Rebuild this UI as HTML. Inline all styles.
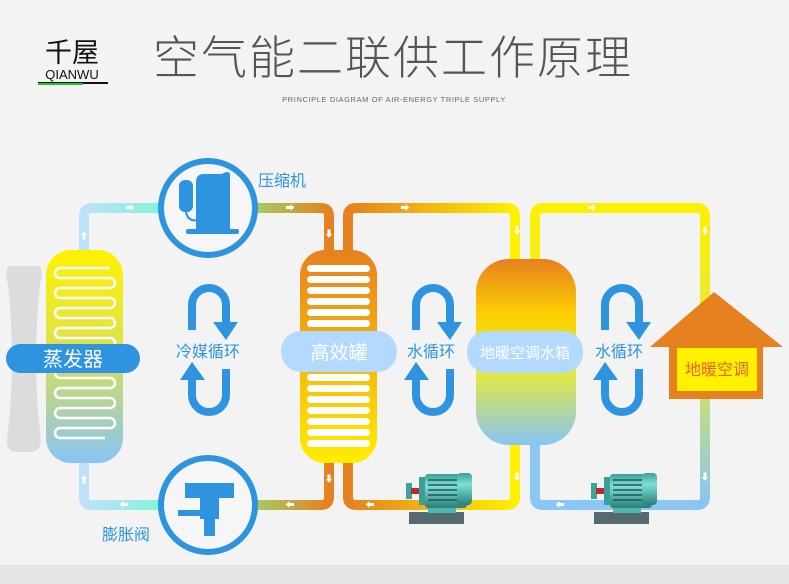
<!DOCTYPE html>
<html><head><meta charset="utf-8"><style>
html,body{margin:0;padding:0;}
body{width:789px;height:584px;overflow:hidden;background:#f3f3f3;font-family:"Liberation Sans","Noto Sans CJK SC",sans-serif;}
svg{display:block}
</style></head><body>
<svg width="789" height="584" viewBox="0 0 789 584" xmlns="http://www.w3.org/2000/svg" font-family="Liberation Sans, Noto Sans CJK SC, sans-serif">
<defs>
<linearGradient id="evap" x1="0" y1="0" x2="0" y2="1"><stop offset="0" stop-color="#fff200"/><stop offset="0.45" stop-color="#dde24a"/><stop offset="1" stop-color="#88c4f6"/></linearGradient>
<linearGradient id="tank" x1="0" y1="0" x2="0" y2="1"><stop offset="0" stop-color="#e7801f"/><stop offset="0.5" stop-color="#f6b40c"/><stop offset="1" stop-color="#ffee00"/></linearGradient>
<linearGradient id="wt" x1="0" y1="0" x2="0" y2="1"><stop offset="0" stop-color="#e7801f"/><stop offset="0.3" stop-color="#fdd000"/><stop offset="0.6" stop-color="#e6ea3a"/><stop offset="1" stop-color="#88c4f6"/></linearGradient>
<linearGradient id="p1" x1="0" y1="0" x2="1" y2="0"><stop offset="0" stop-color="#bfe0fb"/><stop offset="1" stop-color="#7ff5d8"/></linearGradient>
<linearGradient id="p2" x1="0" y1="0" x2="1" y2="0"><stop offset="0" stop-color="#9ed36a"/><stop offset="1" stop-color="#e7801f"/></linearGradient>
<linearGradient id="p3" x1="0" y1="0" x2="1" y2="0"><stop offset="0" stop-color="#e7801f"/><stop offset="1" stop-color="#fff000"/></linearGradient>
<linearGradient id="p4" x1="0" y1="0" x2="0" y2="1"><stop offset="0" stop-color="#fff000"/><stop offset="0.5" stop-color="#dfe84a"/><stop offset="1" stop-color="#88c4f6"/></linearGradient>
<linearGradient id="motor" x1="0" y1="0" x2="0" y2="1"><stop offset="0" stop-color="#3a9f98"/><stop offset="0.35" stop-color="#7fe0d4"/><stop offset="1" stop-color="#2a7f7a"/></linearGradient>
</defs>
<rect x="0" y="565" width="789" height="19" fill="#e6e6e6"/>
<!-- header -->
<text x="72" y="62" font-size="27" text-anchor="middle" fill="#111" font-family="Noto Sans CJK SC, sans-serif">千屋</text>
<text x="72" y="79" font-size="13" text-anchor="middle" fill="#111">QIANWU</text>
<rect x="38" y="82" width="70" height="2" fill="#111"/>
<rect x="38" y="83" width="45" height="2" fill="#22c322"/>
<text x="393" y="74" font-size="46" text-anchor="middle" fill="#555" font-weight="200" font-family="Noto Sans CJK SC, sans-serif" letter-spacing="2">空气能二联供工作原理</text>
<text x="394" y="102" font-size="7.5" text-anchor="middle" fill="#666" letter-spacing="0.6">PRINCIPLE DIAGRAM OF AIR-ENERGY TRIPLE SUPPLY</text>
<!-- pipes left loop -->
<g fill="none" stroke-width="10" stroke-linejoin="round">
<path d="M84,250 V216 Q84,208 92,208 H165" stroke="url(#p1)"/>
<path d="M84,463 V497 Q84,505 92,505 H165" stroke="url(#p1)"/>
<path d="M250,208 H321 Q329,208 329,216 V250" stroke="url(#p2)"/>
<path d="M250,505 H321 Q329,505 329,497 V463" stroke="url(#p2)"/>
<path d="M348,250 V216 Q348,208 356,208 H507 Q515,208 515,216 V500" stroke="url(#p3)"/>
<path d="M348,463 V497 Q348,505 356,505 H507 Q515,505 515,497" stroke="url(#p3)"/>
<path d="M535,260 V216 Q535,208 543,208 H697 Q705,208 705,216 V497 Q705,505 697,505 H543 Q535,505 535,497 V445" stroke="url(#p4)"/>
<path d="M515,216 V500" stroke="#fff000"/>
<path d="M535,445 V497 Q535,505 543,505 H697" stroke="#8cc6f4"/>
</g>
<!-- small pipe arrows -->
<g fill="#fff" font-size="9" text-anchor="middle">
<text x="130" y="211">➡</text><text x="290" y="211">➡</text><text x="405" y="211">➡</text><text x="592" y="211">➡</text>
<text x="124" y="508">⬅</text><text x="290" y="508">⬅</text><text x="370" y="508">⬅</text><text x="560" y="508">⬅</text>
<text x="84" y="239">⬆</text><text x="84" y="483">⬆</text>
<text x="329" y="237">⬇</text><text x="329" y="482">⬇</text>
<text x="517" y="234">⬇</text><text x="517" y="480">⬇</text>
<text x="705" y="234">⬇</text><text x="705" y="480">⬇</text>
</g>
<!-- fan -->
<path d="M10,266 H38 Q44,268 40,285 Q32,360 40,432 Q44,452 30,452 H16 Q4,452 8,432 Q16,360 8,285 Q4,268 10,266 Z" fill="#dcdcdc"/>
<!-- evaporator -->
<rect x="46" y="250" width="77" height="213" rx="25" fill="url(#evap)"/>
<path d="M110,268 H60 a5,5 0 0 0 0,10 H110 a5,5 0 0 1 0,10 H60 a5,5 0 0 0 0,10 H110 a5,5 0 0 1 0,10 H60 a5,5 0 0 0 0,10 H110 a5,5 0 0 1 0,10 H60 a5,5 0 0 0 0,10 H110 a5,5 0 0 1 0,10 H60 a5,5 0 0 0 0,10 H110 a5,5 0 0 1 0,10 H60 a5,5 0 0 0 0,10 H110 a5,5 0 0 1 0,10 H60 a5,5 0 0 0 0,10 H110 a5,5 0 0 1 0,10 H60 a5,5 0 0 0 0,10 H110 a5,5 0 0 1 0,10 H60 a5,5 0 0 0 0,10 H105" fill="none" stroke="#fff" stroke-width="2.5"/>
<rect x="6" y="344" width="134" height="29" rx="14.5" fill="#2e94e0"/>
<text x="73" y="366" font-size="20" fill="#fff" text-anchor="middle">蒸发器</text>
<!-- compressor -->
<circle cx="208" cy="208" r="47" fill="#f6f6f6" stroke="#2e94e0" stroke-width="6"/>
<rect x="179" y="180" width="14" height="32" rx="6" fill="#2e94e0"/>
<path d="M196,182 Q196,174 204,174 H222 Q228,170 230,174 V230 H196 Z" fill="#2e94e0"/>
<path d="M186,212 Q188,222 198,220" fill="none" stroke="#2e94e0" stroke-width="2"/>
<rect x="186" y="229" width="53" height="5" rx="2" fill="#2e94e0"/>
<text x="258" y="186" font-size="16" fill="#2e94e0">压缩机</text>
<!-- valve -->
<circle cx="208" cy="505" r="47" fill="#f6f6f6" stroke="#2e94e0" stroke-width="6"/>
<path d="M185,483 H234 V498 H219 V519 H215 V536 H204 V519 H200 V498 H185 Z" fill="#2e94e0"/>
<rect x="178" y="510" width="25" height="6" fill="#2e94e0"/>
<text x="102" y="540" font-size="16" fill="#2e94e0">膨胀阀</text>
<!-- high eff tank -->
<rect x="300" y="250" width="77" height="213" rx="25" fill="url(#tank)"/>
<g fill="#fff">
<rect x="307" y="265" width="63" height="7" rx="3.5"/><rect x="307" y="276" width="63" height="7" rx="3.5"/><rect x="307" y="287" width="63" height="7" rx="3.5"/><rect x="307" y="298" width="63" height="7" rx="3.5"/><rect x="307" y="309" width="63" height="7" rx="3.5"/><rect x="307" y="320" width="63" height="7" rx="3.5"/>
<rect x="307" y="374" width="63" height="7" rx="3.5"/><rect x="307" y="385" width="63" height="7" rx="3.5"/><rect x="307" y="396" width="63" height="7" rx="3.5"/><rect x="307" y="407" width="63" height="7" rx="3.5"/><rect x="307" y="418" width="63" height="7" rx="3.5"/><rect x="307" y="429" width="63" height="7" rx="3.5"/><rect x="307" y="440" width="63" height="7" rx="3.5"/>
</g>
<rect x="281" y="331" width="116" height="41" rx="20" fill="#b3dafd"/>
<text x="339" y="359" font-size="19" fill="#fff" text-anchor="middle">高效罐</text>
<!-- water tank -->
<rect x="476" y="259" width="100" height="186" rx="33" fill="url(#wt)"/>
<rect x="467" y="331" width="116" height="42" rx="20" fill="#b3dafd"/>
<text x="525" y="358" font-size="15" fill="#fff" text-anchor="middle">地暖空调水箱</text>
<!-- house -->
<polygon points="714,292 650,347 783,347" fill="#e7801f"/>
<rect x="669" y="346" width="94" height="53" fill="#e7801f"/>
<rect x="677" y="348" width="80" height="43" fill="#fff200"/>
<text x="717" y="375" font-size="16" fill="#e8641e" text-anchor="middle">地暖空调</text>
<!-- cycle arrows -->
<g id="cyc">
<path d="M192,330 V305 A17,17 0 0 1 226,305 V322" fill="none" stroke="#2e94e0" stroke-width="8"/>
<polygon points="213,322 238,322 226,340" fill="#2e94e0"/>
<path d="M192,380 V395 A17,17 0 0 0 226,395 V369" fill="none" stroke="#2e94e0" stroke-width="8"/>
<polygon points="180,380 205,380 192,362" fill="#2e94e0"/>
</g>
<use href="#cyc" x="224"/>
<use href="#cyc" x="413"/>
<text x="208" y="357" font-size="16" fill="#2e94e0" text-anchor="middle">冷媒循环</text>
<text x="431" y="357" font-size="16" fill="#2e94e0" text-anchor="middle">水循环</text>
<text x="619" y="357" font-size="16" fill="#2e94e0" text-anchor="middle">水循环</text>
<!-- pumps -->
<g id="pump">
<rect x="409" y="512" width="55" height="12" fill="#546a6e"/>
<rect x="428" y="503" width="28" height="10" fill="#4fb8ae"/>
<rect x="406" y="483" width="6" height="16" fill="#3aa59c"/>
<rect x="411" y="488" width="10" height="6" fill="#c0282c"/>
<rect x="419" y="477" width="8" height="28" fill="#3a9f98"/>
<rect x="425" y="474" width="42" height="34" rx="3" fill="url(#motor)"/>
<g stroke="#1e5a57" stroke-width="1.5"><line x1="428" y1="480" x2="457" y2="480"/><line x1="428" y1="485" x2="457" y2="485"/><line x1="428" y1="490" x2="457" y2="490"/><line x1="428" y1="495" x2="457" y2="495"/><line x1="428" y1="500" x2="457" y2="500"/></g>
<rect x="457" y="473" width="15" height="32" rx="4" fill="url(#motor)"/>
</g>
<use href="#pump" x="185"/>
</svg>
</body></html>
